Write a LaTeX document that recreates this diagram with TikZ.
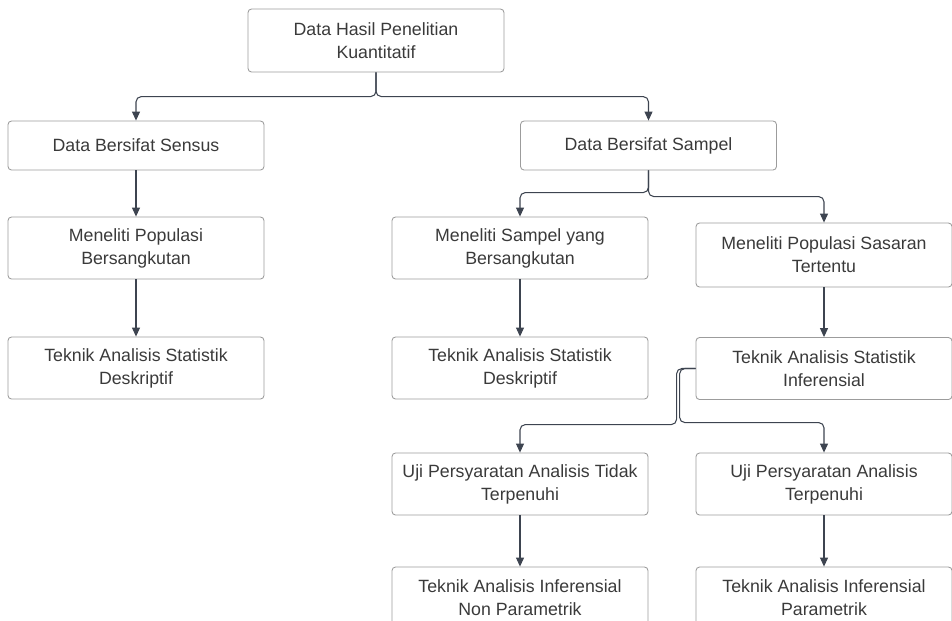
\documentclass[tikz,border=0pt]{standalone}
\usepackage{fontspec}
\setmainfont{Liberation Sans}
\usepackage{tikz}
\usetikzlibrary{arrows.meta}

\definecolor{boxline}{HTML}{9C9C9C}
\definecolor{txtgray}{HTML}{3A3A3A}
\definecolor{linegray}{HTML}{3D4450}

\begin{document}
\begin{tikzpicture}[x=0.02cm, y=-0.02cm,
        >={Triangle[length=1.8mm, width=1.6mm]},
        box/.style={draw=boxline, rounded corners=2pt, line width=0.5pt,
            minimum width=5.12cm, minimum height=1.24cm, align=center,
            text=txtgray, font=\fontsize{10.1}{13}\selectfont},
        conn/.style={->, draw=linegray, line width=0.6pt, rounded corners=3pt}]
        \clip (0,0) rectangle (952,620);

        % Boxes
        \node[box, minimum height=1.26cm] (hasil) at (376,40.5) {Data Hasil Penelitian\\Kuantitatif};
        \node[box, minimum height=0.98cm] (sensus) at (136,145.5) {Data Bersifat Sensus};
        \node[box, minimum height=0.98cm] (sampel) at (648.5,145.5) {Data Bersifat Sampel};

        \node[box] (popbers) at (136,248) {Meneliti Populasi\\Bersangkutan};
        \node[box] (deskkiri) at (136,368) {Teknik Analisis Statistik\\Deskriptif};

        \node[box] (sampelbers) at (520,248) {Meneliti Sampel yang\\Bersangkutan};
        \node[box] (deskmid) at (520,368) {Teknik Analisis Statistik\\Deskriptif};

        \node[box, minimum height=1.28cm] (sasaran) at (824,255) {Meneliti Populasi Sasaran\\Tertentu};
        \node[box] (inferensial) at (824,368.5) {Teknik Analisis Statistik\\Inferensial};

        \node[box] (ujitidak) at (520,484) {Uji Persyaratan Analisis Tidak\\Terpenuhi};
        \node[box] (ujiya) at (824,484) {Uji Persyaratan Analisis\\Terpenuhi};

        \node[box] (nonpar) at (520,598) {Teknik Analisis Inferensial\\Non Parametrik};
        \node[box] (par) at (824,598) {Teknik Analisis Inferensial\\Parametrik};

        % Connectors
        \draw[conn] (hasil.south) |- ([yshift=0.48cm]sensus.north) -- (sensus.north);
        \draw[conn] (hasil.south) |- ([yshift=0.48cm]sampel.north) -- (sampel.north);
        \draw[conn] (sensus) -- (popbers);
        \draw[conn] (popbers) -- (deskkiri);

        \draw[conn] (sampel.south) |- ([yshift=0.48cm]sampelbers.north) -- (sampelbers.north);
        \draw[conn] (sampel.south) |- ([yshift=0.52cm]sasaran.north) -- (sasaran.north);
        \draw[conn] (sampelbers) -- (deskmid);
        \draw[conn] (sasaran) -- (inferensial);

        \draw[conn] (inferensial.west) -- ++(-19,0) |- ([yshift=0.56cm]ujitidak.north) -- (ujitidak.north);
        \draw[conn] (inferensial.west) -- ++(-16,0) |- ([yshift=0.60cm]ujiya.north) -- (ujiya.north);
        \draw[conn] (ujitidak) -- (nonpar);
        \draw[conn] (ujiya) -- (par);
    \end{tikzpicture}
\end{document}
